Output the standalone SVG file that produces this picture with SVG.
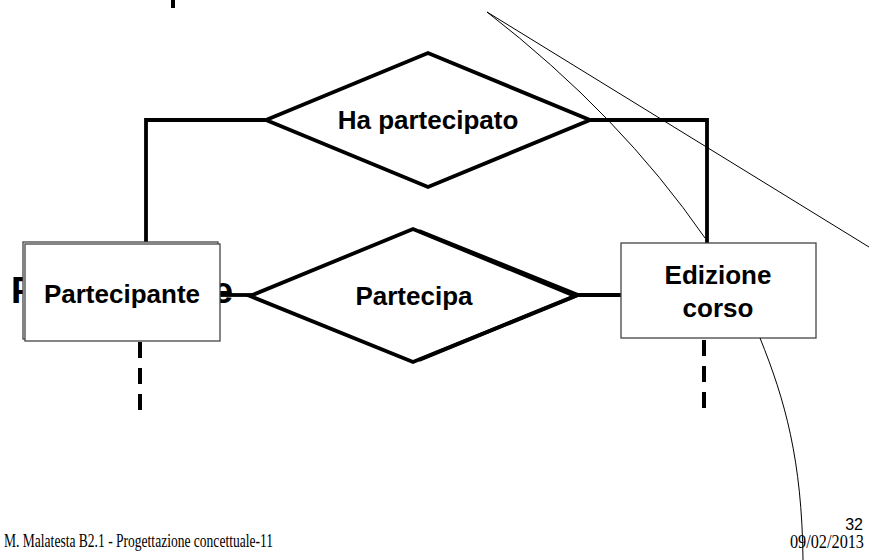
<svg xmlns="http://www.w3.org/2000/svg" width="869" height="560" viewBox="0 0 869 560">
<style>
.thick{fill:none;stroke:#000;stroke-width:3.8;stroke-linejoin:miter}
.dash{fill:none;stroke:#000;stroke-width:4;stroke-dasharray:16 10}
.thin{fill:none;stroke:#000;stroke-width:1}
.box{fill:#fff;stroke:#444;stroke-width:1.3}
.lbl{font-family:"Liberation Sans",Arial,Helvetica,sans-serif;font-weight:bold;font-size:26px;fill:#000;text-anchor:middle}
.foot{font-family:"Liberation Serif","Times New Roman",serif;font-size:18px;fill:#000}
</style>
<rect width="869" height="560" fill="#fff"/>
<rect x="171" y="0" width="4" height="8" fill="#000"/>
<text x="11" y="303" font-family="'Liberation Sans',Arial,sans-serif" font-weight="bold" font-size="37" fill="#000">Partecipante</text>
<g id="connectors">
<polyline class="thick" points="146,242 146,120 266,120"/>
<polyline class="thick" points="590,120 707,120 707,243"/>
<line class="thick" x1="220" y1="295" x2="252" y2="295"/>
<line class="thick" x1="573" y1="295" x2="621" y2="295"/>
<line class="dash" x1="140" y1="342" x2="140" y2="414"/>
<line class="dash" x1="704" y1="340" x2="704" y2="412"/>
</g>
<g id="ha-partecipato">
<polygon class="thick" fill="#fff" points="266,120 428,53 590,120 428,187"/>
<text class="lbl" x="428" y="129">Ha partecipato</text>
</g>
<g id="partecipa">
<polygon class="thick" fill="#fff" points="250,296 413,229 575,296 413,362"/>
<polyline class="thick" points="419,231 578,295 419,360"/>
<text class="lbl" x="414" y="305">Partecipa</text>
</g>
<g id="partecipante">
<rect class="box" x="23" y="242" width="195" height="97"/>
<rect class="box" x="25" y="244" width="195" height="97"/>
<text class="lbl" x="122" y="303">Partecipante</text>
</g>
<g id="edizione-corso">
<rect class="box" x="621" y="243" width="195" height="95"/>
<text class="lbl" x="718" y="284">Edizione</text>
<text class="lbl" x="718" y="317">corso</text>
</g>
<g id="annotations">
<line class="thin" x1="487" y1="12" x2="869" y2="247"/>
<path class="thin" d="M487,12 Q620,115 705,238"/>
<path class="thin" d="M760,338 C785,400 802,460 803,560"/>
</g>
<text class="foot" x="4" y="547" textLength="269" lengthAdjust="spacingAndGlyphs">M. Malatesta  B2.1 - Progettazione concettuale-11</text>
<text x="863" y="530" text-anchor="end" font-family="'Liberation Sans',Arial,sans-serif" font-size="16" fill="#000">32</text>
<text class="foot" x="790" y="548" textLength="74" lengthAdjust="spacingAndGlyphs">09/02/2013</text>
</svg>
